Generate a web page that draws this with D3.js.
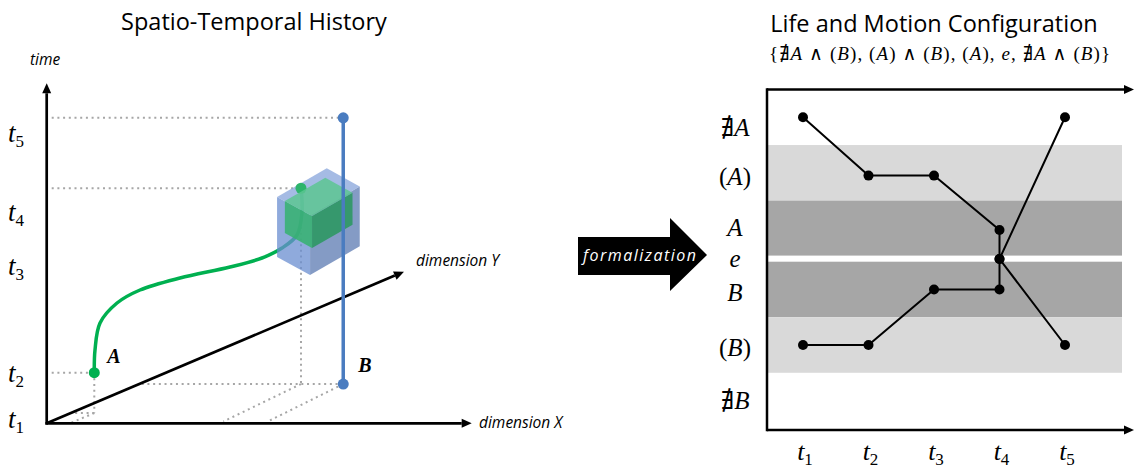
<!DOCTYPE html>
<html lang="en">
<head>
<meta charset="UTF-8">
<script src="https://cdn.jsdelivr.net/npm/d3@7/dist/d3.min.js"></script>
<style>
  body { margin: 0; background: #fff; }
  svg { display: block; }
  .title { font-family: "Open Sans", sans-serif; font-size: 23.5px; fill: #000; }
  .math { font-family: "Liberation Serif", "DejaVu Serif", serif; fill: #000; }
  .axlbl { font-family: "Open Sans", sans-serif; font-style: italic; font-size: 15.5px; fill: #000; }
  .dotted { stroke: #a6a6a6; stroke-width: 2; stroke-dasharray: 2 3.7; fill: none; }
</style>
</head>
<body>
<script>
/* ---- left panel: spatio-temporal history (x = dimension X, y = dimension Y, t = time) ---- */
var timeTickNames = ["1", "2", "3", "4", "5"];
var timeTickVals = [0, 1.36, 4.51, 6.10, 8.42];

// trajectory of A as [x, y, t]
var pathA = [
  [0.548, 0.68, 1.186], [0.548, 0.70, 1.844], [0.624, 0.75, 2.616], [0.940, 0.85, 3.159],
  [1.355, 1.00, 3.475], [2.043, 1.30, 3.694], [2.884, 1.70, 3.839], [3.384, 2.00, 3.970],
  [3.645, 2.25, 4.153], [3.830, 2.45, 4.446], [3.863, 2.55, 5.078], [3.806, 2.59, 5.758]
];
// B stays in place: x, y, start t, end t
var objB = [4.80, 2.59, 0, 7.83];
// extents: [x, y, t, width(x), depth(y), height(t)]
var boxB = [4.019, 2.59, 3.206, 1.35, 0.97, 1.76];
var boxA = [4.066, 2.59, 4.00, 1.10, 0.80, 0.94];

/* ---- right panel: life and motion configuration ---- */
var timeNames = ["1", "2", "3", "4", "5"];
var levelNames = ["∄A", "(A)", "A", "e", "B", "(B)", "∄B"];
var levelVals = [2.55, 1.5, 0.52, 0, -0.55, -1.55, -2.55];
var labelVals = [2.35, 1.47, 0.55, -0.01, -0.62, -1.61, -2.55];
var bandFrom = [1.05, 0.06, -1.05, -2.05];
var bandTo = [2.05, 1.05, -0.05, -1.05];
var bandShade = ["light", "dark", "dark", "light"];
var seriesA = [["1", "∄A"], ["2", "(A)"], ["3", "(A)"], ["4", "A"], ["4", "e"], ["5", "∄A"]];
var seriesB = [["1", "(B)"], ["2", "(B)"], ["3", "B"], ["4", "B"], ["4", "e"], ["5", "(B)"]];
var subtitle = "{∄A ∧ (B), (A) ∧ (B), (A), e, ∄A ∧ (B)}";

var width = 1135, height = 468;
var svg = d3.select("body").append("svg").attr("width", width).attr("height", height);

// letters in italic, the rest upright (math style)
function mathText(sel, str) {
  var parts = str.match(/[A-Za-z]+|[^A-Za-z]+/g);
  parts.forEach(function(p) {
    sel.append("tspan").text(p)
      .style("font-style", /[A-Za-z]/.test(p) ? "italic" : "normal");
  });
  return sel;
}
function tLabel(sel, n) {
  sel.append("tspan").text("t").style("font-style", "italic");
  sel.append("tspan").text(n).attr("font-size", 17).attr("dy", 5);
}
function arrow(g, x1, y1, x2, y2, w) {
  var a = Math.atan2(y2 - y1, x2 - x1), len = 10, hw = 4.5;
  var bx = x2 - len * Math.cos(a), by = y2 - len * Math.sin(a);
  g.append("line").attr("x1", x1).attr("y1", y1).attr("x2", bx).attr("y2", by)
    .attr("stroke", "#000").attr("stroke-width", w);
  g.append("polygon").attr("fill", "#000").attr("points", [
    [x2, y2],
    [bx + hw * Math.sin(a), by - hw * Math.cos(a)],
    [bx - hw * Math.sin(a), by + hw * Math.cos(a)]
  ].join(" "));
}

/* ===== left panel ===== */
var sx = d3.scaleLinear().domain([0, 10]).range([46.7, 471.7]);
var syx = d3.scaleLinear().domain([0, 10]).range([0, 357.3]);
var syy = d3.scaleLinear().domain([0, 10]).range([0, 151.6]);
var st = d3.scaleLinear().domain([0, 10]).range([0, 340]);
var y0 = 423.3;
function proj(x, y, t) { return [sx(x) + syx(y), y0 - syy(y) - st(t)]; }

var left = svg.append("g");
left.append("text").attr("class", "title").attr("x", 254).attr("y", 30)
  .attr("text-anchor", "middle").text("Spatio-Temporal History");

// dotted guide lines
var aStart = pathA[0], aEnd = pathA[pathA.length - 1];
var pA0 = proj(aStart[0], aStart[1], aStart[2]), gA0 = proj(aStart[0], aStart[1], 0);
var pA1 = proj(aEnd[0], aEnd[1], aEnd[2]), gA1 = proj(aEnd[0], aEnd[1], 0);
var pB0 = proj(objB[0], objB[1], objB[2]), pB1 = proj(objB[0], objB[1], objB[3]);
var guides = [
  [[sx(0) + 5, pB1[1]], pB1],
  [[sx(0) + 5, pA1[1]], pA1],
  [[sx(0) + 5, pA0[1]], pA0],
  [pA0, gA0],
  [gA0, proj(aStart[0], 0, 0)],
  [gA0, proj(0, aStart[1], 0)],
  [pB0, proj(0, objB[1], 0)],
  [pB0, proj(objB[0] + 0.3, 0.12, 0)],
  [[gA1[0], pA1[1] + 16], gA1],
  [gA1, proj(aEnd[0] + 0.25, 0.12, 0)]
];
left.selectAll(".dotted").data(guides).enter().append("line")
  .attr("class", "dotted")
  .attr("x1", function(d) { return d[0][0]; }).attr("y1", function(d) { return d[0][1]; })
  .attr("x2", function(d) { return d[1][0]; }).attr("y2", function(d) { return d[1][1]; });

// axes
arrow(left, sx(0), y0 + 1.3, sx(0), y0 - st(10), 2.7);
arrow(left, sx(0) - 1.3, y0, sx(10), y0, 2.7);
arrow(left, sx(0), y0, sx(0) + syx(10), y0 - syy(10), 2.7);

left.append("text").attr("class", "axlbl").attr("x", 30).attr("y", 65).attr("font-size", 14.5).text("time");
left.append("text").attr("class", "axlbl").attr("x", 416).attr("y", 266).text("dimension Y");
left.append("text").attr("class", "axlbl").attr("x", 479).attr("y", 428).text("dimension X");

left.selectAll(".tl").data(timeTickNames).enter().append("text")
  .attr("class", "math tl").attr("font-size", 27).attr("x", 8)
  .attr("y", function(d, i) { return y0 - st(timeTickVals[i]) + 5; })
  .each(function(d) { tLabel(d3.select(this), d); });

// trajectory of A
var lineA = d3.line().curve(d3.curveCatmullRom.alpha(0.5))
  .x(function(d) { return proj(d[0], d[1], d[2])[0]; })
  .y(function(d) { return proj(d[0], d[1], d[2])[1]; });
left.append("path").datum(pathA).attr("d", lineA)
  .attr("fill", "none").attr("stroke", "#00b050").attr("stroke-width", 3.5);
left.append("circle").attr("cx", pA0[0]).attr("cy", pA0[1]).attr("r", 5.5).attr("fill", "#00b050");

// boxes (iso view)
var dirR = [0.866, -0.5], dirL = [-0.876, -0.482];
function drawBox(b, cols, op) {
  var F = proj(b[0], b[1], b[2]);
  var rl = sx(b[3]) - sx(0), ll = Math.hypot(syx(b[4]), syy(b[4])), h = st(b[5]);
  var R = [dirR[0] * rl, dirR[1] * rl], L = [dirL[0] * ll, dirL[1] * ll];
  function p(a, c, up) { return [F[0] + a * L[0] + c * R[0], F[1] + a * L[1] + c * R[1] - up * h]; }
  var faces = [
    [p(0, 0, 0), p(1, 0, 0), p(1, 0, 1), p(0, 0, 1)],
    [p(0, 0, 0), p(0, 1, 0), p(0, 1, 1), p(0, 0, 1)],
    [p(0, 0, 1), p(1, 0, 1), p(1, 1, 1), p(0, 1, 1)]
  ];
  left.selectAll(null).data(faces).enter().append("polygon")
    .attr("points", function(d) { return d.join(" "); })
    .attr("fill", function(d, i) { return cols[i]; })
    .attr("fill-opacity", op);
}
drawBox(boxB, ["#6a8ed0", "#5b7ab2", "#87a4db"], 0.75);
left.append("circle").attr("cx", pA1[0]).attr("cy", pA1[1]).attr("r", 5.5).attr("fill", "#2db46c");
drawBox(boxA, ["#35b36e", "#28985d", "#5cc692"], 0.85);

// B
left.append("line").attr("x1", pB0[0]).attr("y1", pB0[1]).attr("x2", pB1[0]).attr("y2", pB1[1])
  .attr("stroke", "#4a7cc0").attr("stroke-width", 3.5);
left.selectAll(".bdot").data([pB0, pB1]).enter().append("circle")
  .attr("cx", function(d) { return d[0]; }).attr("cy", function(d) { return d[1]; })
  .attr("r", 5.5).attr("fill", "#4a7cc0");

left.append("text").attr("class", "math").attr("font-size", 20).attr("font-weight", "bold")
  .attr("font-style", "italic").attr("x", pA0[0] + 13).attr("y", pA0[1] - 10).text("A");
left.append("text").attr("class", "math").attr("font-size", 20).attr("font-weight", "bold")
  .attr("font-style", "italic").attr("x", pB0[0] + 15).attr("y", pB0[1] - 12).text("B");

/* ===== formalization arrow ===== */
var fa = svg.append("g");
fa.append("polygon").attr("fill", "#000")
  .attr("points", "578,237 670,237 670,218 707,255 670,291 670,275 578,275");
fa.append("text").attr("x", 583).attr("y", 261).attr("fill", "#fff")
  .attr("font-family", "Open Sans, sans-serif").attr("font-style", "italic").attr("font-size", 16)
  .attr("textLength", 113).text("formalization");

/* ===== right panel ===== */
var right = svg.append("g");
var xT = d3.scalePoint().domain(timeNames).range([803, 1065]);
var yL = d3.scaleLinear().domain([-3.08, 3.05]).range([430, 89.5]);
var frameL = 767, frameR = 1134, bandR = 1122;

right.append("text").attr("class", "title").attr("x", 934).attr("y", 32)
  .attr("text-anchor", "middle").text("Life and Motion Configuration");
mathText(right.append("text").attr("class", "math").attr("font-size", 19)
  .attr("x", 769).attr("y", 60).attr("textLength", 341), subtitle);

right.selectAll(".band").data(bandFrom).enter().append("rect")
  .attr("x", frameL).attr("width", bandR - frameL)
  .attr("y", function(d, i) { return yL(bandTo[i]); })
  .attr("height", function(d, i) { return yL(d) - yL(bandTo[i]); })
  .attr("fill", function(d, i) { return bandShade[i] === "light" ? "#d9d9d9" : "#a6a6a6"; });

right.append("line").attr("x1", frameL).attr("x2", frameL)
  .attr("y1", yL(3.05) - 1.2).attr("y2", yL(-3.08) + 1.2)
  .attr("stroke", "#000").attr("stroke-width", 2.5);
arrow(right, frameL, yL(3.05), frameR, yL(3.05), 2.5);
arrow(right, frameL, yL(-3.08), frameR, yL(-3.08), 2.5);

right.selectAll(".rl").data(levelNames).enter().append("text")
  .attr("class", "math rl").attr("font-size", 25).attr("text-anchor", "middle")
  .attr("x", 735).attr("y", function(d, i) { return yL(labelVals[i]) + 8; })
  .each(function(d) { mathText(d3.select(this), d); });

right.selectAll(".xl").data(timeNames).enter().append("text")
  .attr("class", "math xl").attr("font-size", 26).attr("text-anchor", "middle")
  .attr("x", function(d) { return xT(d) + 2; }).attr("y", 460)
  .each(function(d) { tLabel(d3.select(this), d); });

function lvl(name) { return levelVals[levelNames.indexOf(name)]; }
var seriesLine = d3.line()
  .x(function(d) { return xT(d[0]); })
  .y(function(d) { return yL(lvl(d[1])); });
[seriesA, seriesB].forEach(function(s) {
  right.append("path").datum(s).attr("d", seriesLine)
    .attr("fill", "none").attr("stroke", "#000").attr("stroke-width", 2);
  right.selectAll(null).data(s).enter().append("circle")
    .attr("cx", function(d) { return xT(d[0]); })
    .attr("cy", function(d) { return yL(lvl(d[1])); })
    .attr("r", 5).attr("fill", "#000");
});
</script>
</body>
</html>
